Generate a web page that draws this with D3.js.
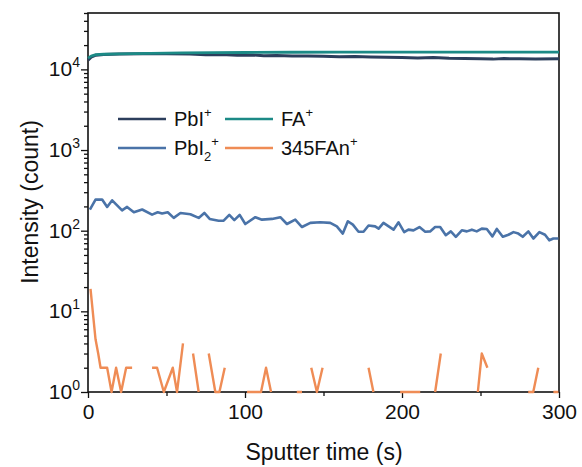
<!DOCTYPE html>
<html>
<head>
<meta charset="utf-8">
<script src="https://cdn.jsdelivr.net/npm/d3@7"></script>
<style>
  body { margin: 0; background: #fff; }
  text { font-family: "Liberation Sans", Arial, sans-serif; fill: #111; }
</style>
</head>
<body>
<div id="my_dataviz"></div>
<script>
var width = 582;
var height = 467;

// sputter time (s) and intensity (count)
var pbiT = [0, 2, 5, 10, 20, 35, 50, 65, 75, 85, 95, 105, 112, 120, 130, 140, 150, 160, 170, 180, 190, 200, 210, 220, 230, 240, 250, 258, 265, 275, 285, 300];
var pbiV = [13000, 14200, 15000, 15300, 15500, 15600, 15600, 15500, 15200, 15300, 15000, 15100, 14800, 14900, 14600, 14700, 14500, 14300, 14400, 14200, 14100, 14000, 13800, 14000, 13700, 13600, 13500, 13400, 13600, 13500, 13400, 13500];

var faT = [0, 2, 5, 10, 20, 40, 60, 80, 100, 130, 160, 200, 250, 300];
var faV = [13800, 14600, 15200, 15400, 15600, 15800, 16000, 16100, 16200, 16300, 16400, 16400, 16400, 16400];

var pbi2T = [1.2, 4.8, 9.0, 12.2, 15.4, 21.7, 24.9, 29.2, 34.5, 40.8, 44.4, 47.2, 50.8, 54.6, 58.9, 65.2, 70.5, 74.1, 77.5, 83.2, 86.4, 90.0, 93.2, 96.6, 100.2, 106.6, 110.8, 117.2, 122.5, 126.7, 132.0, 136.3, 141.6, 147.9, 154.3, 158.5, 162.3, 165.5, 168.7, 172.3, 175.5, 178.7, 182.9, 185.1, 188.2, 194.6, 197.8, 201.4, 204.1, 207.3, 211.1, 214.8, 217.9, 221.1, 224.3, 227.9, 231.1, 234.3, 238.1, 241.3, 244.5, 247.6, 250.8, 254.0, 257.6, 260.4, 264.2, 267.8, 271.0, 274.1, 276.9, 280.5, 283.7, 287.5, 291.1, 293.8, 296.4, 299.6];
var pbi2V = [182, 243, 243, 197, 238, 179, 197, 169, 183, 158, 169, 163, 169, 144, 166, 160, 144, 166, 140, 133, 133, 157, 135, 157, 121, 147, 137, 140, 147, 121, 137, 111, 125, 127, 125, 113, 92, 131, 119, 97, 97, 116, 113, 106, 125, 103, 127, 96, 103, 101, 111, 97, 98, 111, 111, 88, 98, 84, 101, 98, 103, 98, 106, 105, 85, 105, 84, 89, 96, 92, 84, 98, 80, 96, 89, 76, 80, 80];

// null = zero counts (not shown on the log axis)
var fanT = [1.6, 4.8, 6.5, 8.0, 12.2, 15.0, 17.9, 21.1, 24.3, 28.1, 31.5, 37.5, 40.8, 44.0, 48.3, 54.0, 56.7, 60.5, 63.5, 66.9, 70.5, 73.5, 76.9, 81.1, 83.7, 87.1, 90.5, 98.0, 101.3, 104.5, 107.7, 110.2, 113.4, 116.6, 120.0, 130.0, 133.0, 136.3, 139.0, 142.2, 145.8, 149.4, 152.5, 175.5, 178.7, 181.8, 185.0, 195.5, 198.8, 202.0, 205.2, 208.4, 211.6, 215.0, 218.0, 221.1, 224.7, 228.0, 245.0, 248.3, 250.8, 254.4, 257.5, 277.0, 280.4, 283.6, 286.8, 290.0, 293.0, 296.4, 299.6];
var fanV = [19, 4.5, 3, 2, 2, 1, 2, 1, 2, 2, null, null, 2, 2, 1, 2, 1, 4, null, 3, 1, null, 3, 1, 1, 2, null, null, 1, 1, 1, 1, 2, 1, null, null, 1, 1, null, 2, 1, 2, null, null, 2, 1, null, null, 1, 1, 1, 1, 1, null, null, 1, 3, null, null, 1, 3, 2, null, null, 1, 1, 2, null, null, 1, 1];

var xTicks = [0, 100, 200, 300];
var yExps = [0, 1, 2, 3, 4];

var svg = d3.select("#my_dataviz").append('svg').attr('width', width).attr('height', height);

var x = d3.scaleLinear().domain([0, 300]).range([88, 559]);
var y = d3.scaleLog().domain([1, 5e4]).range([392, 13]);

var axis_colour = '#111';

// minor ticks
var yMinor = [];
for (var e = 0; e <= 4; e++) {
    for (var m = 2; m <= 9; m++) {
        if (m * Math.pow(10, e) <= 5e4) yMinor.push(m * Math.pow(10, e));
    }
}

var axes = svg.append('g').attr('class', 'axes');

axes.append('g').attr('transform', 'translate(0,392)')
    .call(d3.axisBottom(x).tickValues([50, 150, 250]).tickSize(4).tickFormat(''))
    .call(function(g){ g.select('.domain').remove(); });

axes.append('g').attr('transform', 'translate(0,392)')
    .call(d3.axisBottom(x).tickValues(xTicks).tickSize(6).tickPadding(6).tickFormat(d3.format('d')))
    .call(function(g){ g.select('.domain').remove(); })
    .selectAll('text').attr('font-size', 21).attr('fill', axis_colour)
    .attr('font-family', '"Liberation Sans", Arial, sans-serif');

axes.append('g').attr('transform', 'translate(88,0)')
    .call(d3.axisLeft(y).tickValues(yMinor).tickSize(4).tickFormat(''))
    .call(function(g){ g.select('.domain').remove(); });

axes.append('g').attr('transform', 'translate(88,0)')
    .call(d3.axisLeft(y).tickValues(yExps.map(function(d){ return Math.pow(10, d); })).tickSize(7).tickFormat(''))
    .call(function(g){ g.select('.domain').remove(); });

axes.selectAll('.tick line').attr('stroke', axis_colour).attr('stroke-width', 1.3);

// y tick labels with superscripts
var yLab = axes.selectAll('.ylab').data(yExps).enter().append('text')
    .attr('class', 'ylab')
    .attr('x', 80)
    .attr('y', function(d){ return y(Math.pow(10, d)) + 7; })
    .attr('text-anchor', 'end')
    .attr('font-size', 21);
yLab.append('tspan').text('10');
yLab.append('tspan').attr('dy', -9).attr('font-size', 14).text(function(d){ return d; });

// frame
svg.append('rect').attr('x', 88).attr('y', 13).attr('width', 471).attr('height', 379)
    .attr('fill', 'none').attr('stroke', axis_colour).attr('stroke-width', 1.6);

// axis titles
svg.append('text').attr('x', 324).attr('y', 460).attr('text-anchor', 'middle')
    .attr('font-size', 23).text('Sputter time (s)');
svg.append('text').attr('transform', 'translate(38,202) rotate(-90)').attr('text-anchor', 'middle')
    .attr('font-size', 23).text('Intensity (count)');

// series
function toPts(t, v) {
    return t.map(function(d, i){ return [d, v[i]]; });
}
var line = d3.line()
    .defined(function(d){ return d[1] != null; })
    .x(function(d){ return x(d[0]); })
    .y(function(d){ return y(d[1]); });

var series = [
    {name: 'pbi2', pts: toPts(pbi2T, pbi2V), colour: '#4a73a8', w: 2.6},
    {name: 'fan', pts: toPts(fanT, fanV), colour: '#ef8c55', w: 2.4},
    {name: 'pbi', pts: toPts(pbiT, pbiV), colour: '#2c3e5c', w: 3},
    {name: 'fa', pts: toPts(faT, faV), colour: '#1c8a86', w: 2.8}
];

var line_group = svg.append('g').attr('class', 'line_group');
line_group.selectAll('path').data(series).enter().append('path')
    .attr('d', function(d){ return line(d.pts); })
    .attr('fill', 'none')
    .attr('stroke', function(d){ return d.colour; })
    .attr('stroke-width', function(d){ return d.w; })
    .attr('stroke-linejoin', 'round');

// legend
var legend = svg.append('g').attr('class', 'legend');
var legItems = [
    {x: 118, y: 119, colour: '#2c3e5c', base: 'PbI', sub: null},
    {x: 225, y: 119, colour: '#1c8a86', base: 'FA', sub: null},
    {x: 118, y: 148, colour: '#4a73a8', base: 'PbI', sub: '2'},
    {x: 225, y: 148, colour: '#ef8c55', base: '345FAn', sub: null}
];
legItems.forEach(function(d){
    legend.append('line').attr('x1', d.x).attr('x2', d.x + 48)
        .attr('y1', d.y).attr('y2', d.y)
        .attr('stroke', d.colour).attr('stroke-width', 2.6);
    var t = legend.append('text').attr('x', d.x + 56).attr('y', d.y + 7).attr('font-size', 20);
    t.append('tspan').text(d.base);
    if (d.sub) {
        t.append('tspan').attr('dy', 6).attr('font-size', 13).text(d.sub);
        t.append('tspan').attr('dy', -15).attr('font-size', 13).text('+');
    } else {
        t.append('tspan').attr('dy', -9).attr('font-size', 13).text('+');
    }
});
</script>
</body>
</html>
